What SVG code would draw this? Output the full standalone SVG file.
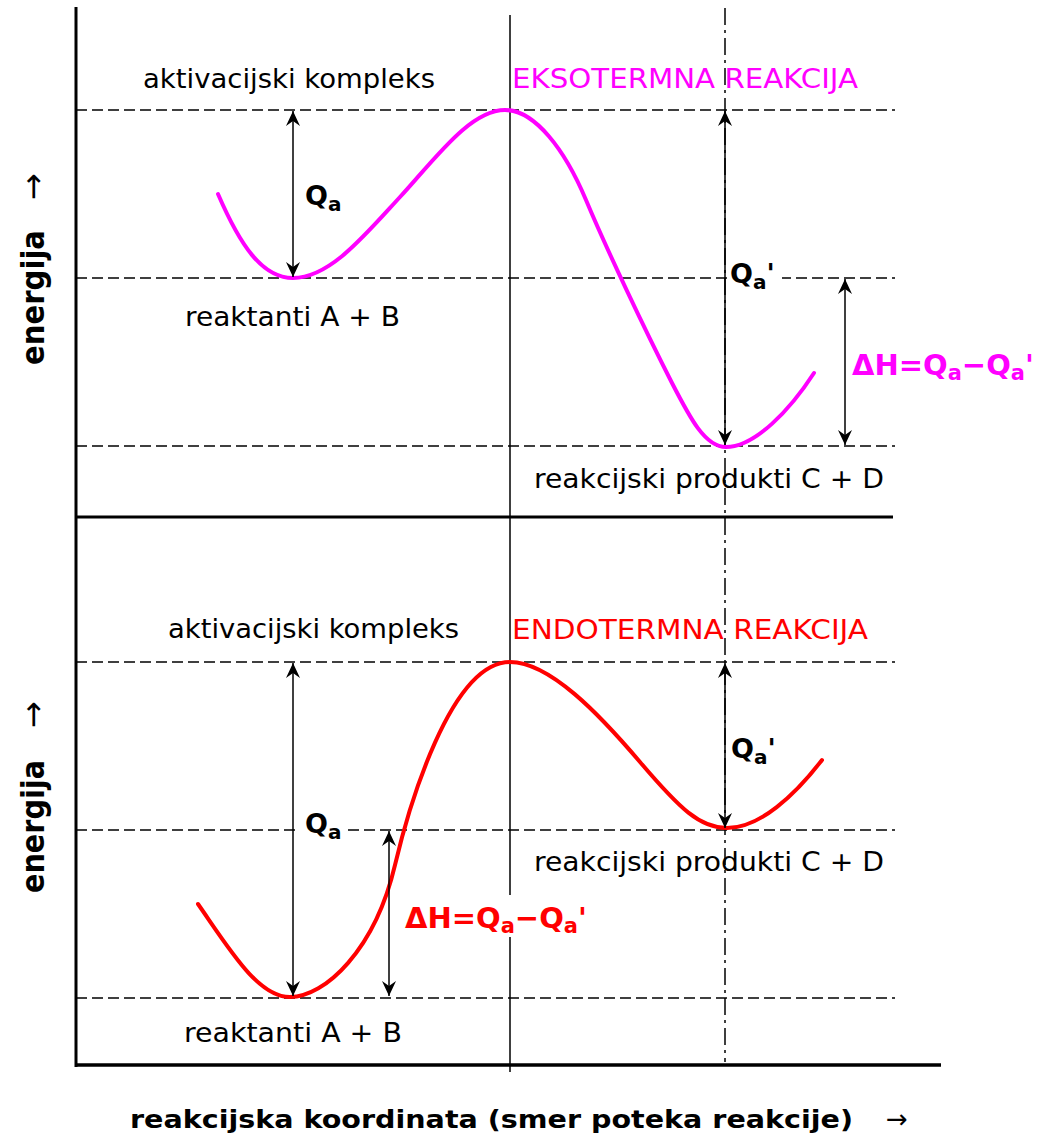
<svg xmlns="http://www.w3.org/2000/svg" width="1038" height="1138" viewBox="0 0 1038 1138">
<style>
.lbl{font-family:'DejaVu Sans',Verdana,sans-serif;font-size:27px;fill:#000}
.q{font-family:'DejaVu Sans',Verdana,sans-serif;font-weight:bold;font-size:27px;fill:#000}
.dh{font-family:'DejaVu Sans',Verdana,sans-serif;font-weight:bold;font-size:29px}
.ax{stroke:#000;stroke-width:3;fill:none}
.dash{stroke:#000;stroke-width:1.5;stroke-dasharray:11 5;fill:none}
.dd{stroke:#000;stroke-width:1.5;stroke-dasharray:17 5 3 5;fill:none}
.vl{stroke:#000;stroke-width:1.5;fill:none}
.arr{stroke:#000;stroke-width:1.5;fill:none;marker-start:url(#ah);marker-end:url(#ah)}
.en{font-family:'DejaVu Sans',Verdana,sans-serif;font-weight:bold;font-size:32px;fill:#000}
.enarr{font-family:'DejaVu Sans',Verdana,sans-serif;font-size:32px;fill:#000}
</style>
<defs>
<marker id="ah" viewBox="-16 -8 17 16" refX="0" refY="0" markerWidth="17" markerHeight="16" markerUnits="userSpaceOnUse" orient="auto-start-reverse">
<path d="M0,0 L-15,-7 L-10,0 L-15,7 Z" fill="#000"/>
</marker>
</defs>
<rect width="1038" height="1138" fill="#fff"/>

<g id="frame">
<line class="ax" x1="76" y1="7" x2="76" y2="1067"/>
<line class="ax" x1="76" y1="517" x2="893" y2="517"/>
<line class="ax" x1="76" y1="1065" x2="941" y2="1065" style="stroke-width:3.5"/>
<line class="vl" x1="510" y1="15" x2="510" y2="895"/>
<line class="vl" x1="510" y1="937" x2="510" y2="1072"/>
<line class="dd" x1="725" y1="8" x2="725" y2="1062"/>
</g>

<g id="levels">
<line class="dash" x1="76" y1="110" x2="895" y2="110"/>
<line class="dash" x1="76" y1="278" x2="895" y2="278"/>
<line class="dash" x1="76" y1="446" x2="895" y2="446"/>
<line class="dash" x1="76" y1="662" x2="895" y2="662"/>
<line class="dash" x1="76" y1="830" x2="895" y2="830"/>
<line class="dash" x1="76" y1="998" x2="895" y2="998"/>
</g>

<g id="curve-exo">
<path d="M218,194 C240,245 262,278 293,278 C330,278 365,235 400,197 C435,159 470,110 505,110 C535,110 565,150 586,200 C607,250 645,330 672,383 C690,418 705,447 726,447 C755,447 790,410 814,373" fill="none" stroke="#FF00FF" stroke-width="4" stroke-linecap="round"/>
</g>
<g id="curve-endo">
<path d="M198,904 C230,950 258,997 290,997 C325,997 375,950 395,865 C408,810 450,662 510,662 C550,662 600,715 640,762 C680,809 700,828 727,828 C760,828 795,795 822,760" fill="none" stroke="#FF0000" stroke-width="4" stroke-linecap="round"/>
</g>

<g id="connectors">
<line class="arr" x1="293" y1="111" x2="293" y2="277"/>
<line class="arr" x1="725" y1="111" x2="725" y2="445"/>
<line class="arr" x1="845" y1="279" x2="845" y2="445"/>
<line class="arr" x1="293" y1="663" x2="293" y2="996"/>
<line class="arr" x1="389" y1="831" x2="389" y2="996"/>
<line class="arr" x1="725" y1="663" x2="725" y2="828"/>
</g>

<g id="label-energija-top" transform="translate(44,365) rotate(-90)">
<text class="en" x="0" y="0" textLength="135" lengthAdjust="spacingAndGlyphs">energija</text>
<text class="enarr" x="165" y="0">→</text>
</g>
<g id="label-energija-bottom" transform="translate(44,893) rotate(-90)">
<text class="en" x="0" y="0" textLength="133" lengthAdjust="spacingAndGlyphs">energija</text>
<text class="enarr" x="165" y="0">→</text>
</g>

<g id="label-aktivacijski-top"><text class="lbl" x="143" y="88" textLength="292" lengthAdjust="spacingAndGlyphs">aktivacijski kompleks</text></g>
<g id="label-eksotermna"><text class="lbl" x="512" y="88" textLength="346" lengthAdjust="spacingAndGlyphs" style="fill:#FF00FF">EKSOTERMNA REAKCIJA</text></g>
<g id="label-reaktanti-top"><text class="lbl" x="185" y="326" textLength="215" lengthAdjust="spacingAndGlyphs">reaktanti A + B</text></g>
<g id="label-produkti-top"><text class="lbl" x="534" y="488" textLength="350" lengthAdjust="spacingAndGlyphs">reakcijski produkti C + D</text></g>

<g id="label-qa-top"><text class="q" x="305" y="205">Q<tspan font-size="20" dy="6">a</tspan></text></g>
<g id="label-qa2-top">
<rect x="728" y="260" width="54" height="30" fill="#fff"/>
<text class="q" x="730" y="283">Q<tspan font-size="20" dy="6">a</tspan><tspan dy="-6">'</tspan></text>
</g>
<g id="label-dh-top"><text class="dh" x="852" y="375" fill="#FF00FF">ΔH=Q<tspan font-size="21" dy="5">a</tspan><tspan dy="-5">−Q</tspan><tspan font-size="21" dy="5">a</tspan><tspan dy="-5">'</tspan></text></g>

<g id="label-aktivacijski-bottom"><text class="lbl" x="168" y="638" textLength="291" lengthAdjust="spacingAndGlyphs">aktivacijski kompleks</text></g>
<g id="label-endotermna"><text class="lbl" x="512" y="639" textLength="356" lengthAdjust="spacingAndGlyphs" style="fill:#FF0000">ENDOTERMNA REAKCIJA</text></g>
<g id="label-produkti-bottom"><text class="lbl" x="534" y="871" textLength="350" lengthAdjust="spacingAndGlyphs">reakcijski produkti C + D</text></g>
<g id="label-reaktanti-bottom"><text class="lbl" x="184" y="1042" textLength="218" lengthAdjust="spacingAndGlyphs">reaktanti A + B</text></g>

<g id="label-qa-bottom">
<rect x="298" y="812" width="50" height="30" fill="#fff"/>
<text class="q" x="305" y="833">Q<tspan font-size="20" dy="6">a</tspan></text>
</g>
<g id="label-qa2-bottom"><text class="q" x="731" y="758">Q<tspan font-size="20" dy="6">a</tspan><tspan dy="-6">'</tspan></text></g>
<g id="label-dh-bottom"><text class="dh" x="405" y="928" fill="#FF0000">ΔH=Q<tspan font-size="21" dy="5">a</tspan><tspan dy="-5">−Q</tspan><tspan font-size="21" dy="5">a</tspan><tspan dy="-5">'</tspan></text></g>

<g id="label-xaxis">
<text x="130" y="1128" textLength="723" lengthAdjust="spacingAndGlyphs" style="font-family:'DejaVu Sans',Verdana,sans-serif;font-weight:bold;font-size:25px;fill:#000">reakcijska koordinata (smer poteka reakcije)</text>
<text x="886" y="1128" style="font-family:'DejaVu Sans',Verdana,sans-serif;font-size:26px;fill:#000">→</text>
</g>
</svg>
